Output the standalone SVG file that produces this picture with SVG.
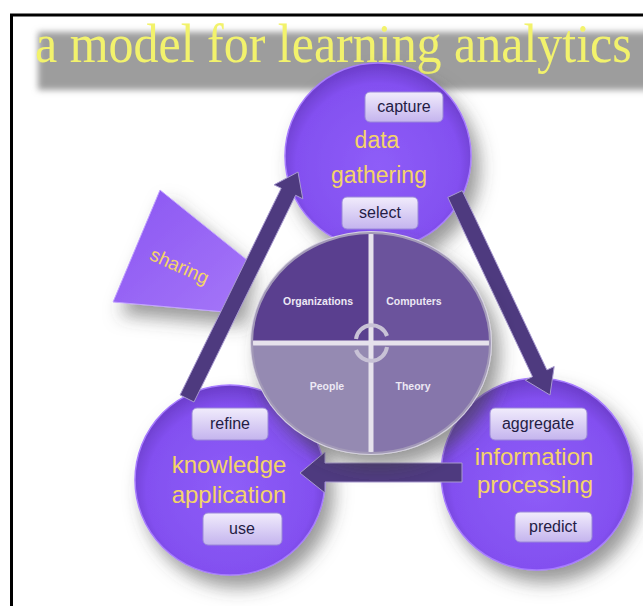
<svg xmlns="http://www.w3.org/2000/svg" width="643" height="606" viewBox="0 0 643 606">
<defs>
<style>
.lbl{font-family:"Liberation Sans",Arial,sans-serif;fill:#f4d468;text-anchor:middle}
.pilltxt{font-family:"Liberation Sans",Arial,sans-serif;font-size:16px;fill:#241c44;text-anchor:middle}
.pill{fill:url(#pillGrad);stroke:#9a88d8;stroke-width:1}
.quad{font-family:"Liberation Sans",Arial,sans-serif;font-size:10.5px;font-weight:bold;fill:#ece8f4;text-anchor:middle}
.node{fill:url(#circGrad);stroke:#a77cff;stroke-width:1.5;filter:url(#shadow)}
.arrow{fill:#4e3a7f;stroke:#a89ad0;stroke-width:1}
</style>
<radialGradient id="circGrad" cx="50%" cy="55%" r="55%">
<stop offset="0" stop-color="#8e5df8"/>
<stop offset="0.8" stop-color="#8350f0"/>
<stop offset="1" stop-color="#6a3cc8"/>
</radialGradient>
<linearGradient id="pillGrad" x1="0" y1="0" x2="0" y2="1">
<stop offset="0" stop-color="#f1ecfc"/>
<stop offset="1" stop-color="#c4b4ee"/>
</linearGradient>
<linearGradient id="shareGrad" x1="0" y1="0" x2="1" y2="1">
<stop offset="0" stop-color="#8a55f2"/>
<stop offset="1" stop-color="#a576f8"/>
</linearGradient>
<filter id="shadow" x="-30%" y="-30%" width="170%" height="170%">
<feDropShadow dx="8" dy="12" stdDeviation="9" flood-color="#444" flood-opacity="0.55"/>
</filter>
<filter id="blur" x="-5%" y="-30%" width="110%" height="160%">
<feGaussianBlur stdDeviation="3"/>
</filter>
<clipPath id="pieClip"><ellipse cx="371" cy="343" rx="119" ry="110"/></clipPath>
</defs>
<rect width="643" height="606" fill="#ffffff"/>
<rect x="11.5" y="15" width="700" height="700" fill="none" stroke="#000" stroke-width="3"/>

<g id="title">
<rect x="38" y="32" width="620" height="58" fill="#9d9d9d" filter="url(#blur)"/>
<text transform="translate(35,62) scale(1,1.08)" x="0" y="0" font-family="Liberation Serif,'Times New Roman',serif" font-size="50" fill="#f2f26c">a model for learning analytics</text>
</g>

<g id="sharing">
<polygon points="160,190 247,260 237,313 113,302" fill="url(#shareGrad)" stroke="#c3a4ff" stroke-width="1" filter="url(#shadow)"/>
<text class="lbl" font-size="19" transform="translate(177,272) rotate(24)">sharing</text>
</g>

<g id="data-gathering">
<circle class="node" cx="378" cy="156" r="93"/>
</g>
<g id="information-processing">
<circle class="node" cx="537" cy="474" r="96"/>
</g>
<g id="knowledge-application">
<circle class="node" cx="230" cy="480" r="95"/>
</g>

<g id="connectors">
<polygon class="arrow" points="194,402 295.6,195.3 302.8,198.8 298,172 274.0,184.8 281.2,188.3 180,395"/>
<polygon class="arrow" points="447.8,197.4 532.5,376.7 525.2,380.1 550,395 554.2,366.5 546.9,369.9 462.2,190.6"/>
<polygon class="arrow" points="462,463 325,463 325,452 300,473 325,493 325,482 462,482"/>
</g>

<g id="center">
<ellipse cx="371" cy="343" rx="121" ry="112" fill="#d8d4e2" filter="url(#shadow)"/>
<g clip-path="url(#pieClip)">
<rect x="250" y="230" width="121" height="113" fill="#5a3f8f"/>
<rect x="371" y="230" width="122" height="113" fill="#6b539c"/>
<rect x="250" y="343" width="121" height="112" fill="#958ab2"/>
<rect x="371" y="343" width="122" height="112" fill="#8676ab"/>
<line x1="371" y1="225" x2="371" y2="460" stroke="#e6e2ec" stroke-width="5"/>
<line x1="245" y1="343" x2="498" y2="343" stroke="#e6e2ec" stroke-width="5"/>
</g>
<ellipse cx="371" cy="343" rx="119" ry="110" fill="none" stroke="#a39ab8" stroke-width="2"/>
<path d="M356,339 A16,16 0 0 1 387,336" fill="none" stroke="#c8c2d6" stroke-width="4"/>
<path d="M387,347 A16,16 0 0 1 356,350" fill="none" stroke="#c8c2d6" stroke-width="4"/>
<text class="quad" x="318" y="305">Organizations</text>
<text class="quad" x="414" y="305">Computers</text>
<text class="quad" x="327" y="390">People</text>
<text class="quad" x="413" y="390">Theory</text>
</g>

<g id="labels-data">
<text class="lbl" font-size="23" x="377" y="148">data</text>
<text class="lbl" font-size="23" x="379" y="183">gathering</text>
<rect class="pill" x="365" y="92" width="78" height="30" rx="5"/>
<text class="pilltxt" x="404" y="112">capture</text>
<rect class="pill" x="342" y="197" width="76" height="32" rx="5"/>
<text class="pilltxt" x="380" y="218">select</text>
</g>
<g id="labels-info">
<text class="lbl" font-size="24" x="534" y="465">information</text>
<text class="lbl" font-size="24" x="535" y="493">processing</text>
<rect class="pill" x="490" y="408" width="97" height="32" rx="5"/>
<text class="pilltxt" x="538" y="429">aggregate</text>
<rect class="pill" x="515" y="512" width="77" height="30" rx="5"/>
<text class="pilltxt" x="553" y="532">predict</text>
</g>
<g id="labels-knowledge">
<text class="lbl" font-size="24" x="229" y="473">knowledge</text>
<text class="lbl" font-size="24" x="229" y="503">application</text>
<rect class="pill" x="192" y="408" width="76" height="32" rx="5"/>
<text class="pilltxt" x="230" y="429">refine</text>
<rect class="pill" x="203" y="513" width="79" height="32" rx="5"/>
<text class="pilltxt" x="242" y="534">use</text>
</g>
</svg>
